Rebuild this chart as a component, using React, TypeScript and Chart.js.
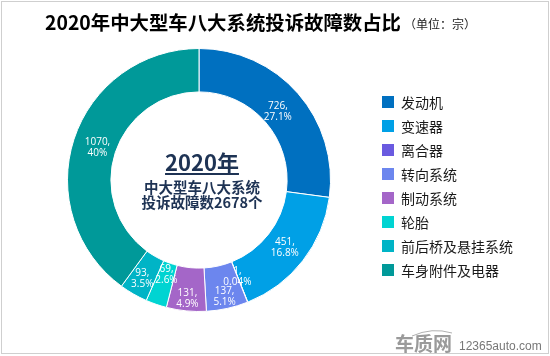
import { useEffect, useRef } from "react";
import { Chart, registerables } from "chart.js";

Chart.register(...registerables);

const categories = [
  "发动机",
  "变速器",
  "离合器",
  "转向系统",
  "制动系统",
  "轮胎",
  "前后桥及悬挂系统",
  "车身附件及电器",
];
const complaintCounts = [726, 451, 1, 137, 131, 69, 93, 1070];
const percentLabels = ["27.1%", "16.8%", "0.04%", "5.1%", "4.9%", "2.6%", "3.5%", "40%"];
const sliceColors = [
  "#0070C0",
  "#00A0E6",
  "#6A5AE0",
  "#6C86EE",
  "#A466C8",
  "#00D4D2",
  "#00B4C6",
  "#009999",
];
const titleText = "2020年中大型车八大系统投诉故障数占比";
const unitText = "（单位：宗）";
const centerYear = "2020年";
const centerLine1 = "中大型车八大系统";
const centerLine2 = "投诉故障数2678个";
const brandText = "车质网";
const siteText = "12365auto.com";

// radial nudges (px) of each slice label from the ring's middle, to avoid overlaps
const labelRadialNudge = [-5, -1, -6, 9, 9, -10, 4, -3];

const CJK = '"Noto Sans CJK SC", "Noto Sans", sans-serif';

const overlayPlugin = {
  id: "overlay",
  afterDatasetsDraw(chart: any) {
    const ctx = chart.ctx;
    const meta = chart.getDatasetMeta(0);
    ctx.save();
    // slice labels
    ctx.fillStyle = "#ffffff";
    ctx.font = '10px "Open Sans", sans-serif';
    ctx.textAlign = "center";
    ctx.textBaseline = "middle";
    meta.data.forEach((arc: any, i: number) => {
      const p = arc.getProps(["x", "y", "startAngle", "endAngle", "innerRadius", "outerRadius"], true);
      const mid = (p.startAngle + p.endAngle) / 2;
      const r = (p.innerRadius + p.outerRadius) / 2 + labelRadialNudge[i];
      const x = p.x + Math.cos(mid) * r;
      const y = p.y + Math.sin(mid) * r;
      ctx.fillText(complaintCounts[i] + ",", x, y - 5);
      ctx.fillText(percentLabels[i], x, y + 6);
    });

    // centre text
    const a0 = meta.data[0];
    const cx = a0.x + 3;
    const cy = a0.y;
    ctx.fillStyle = "#1E3354";
    ctx.font = `bold 22px ${CJK}`;
    ctx.fillText(centerYear, cx, cy - 17);
    const w = ctx.measureText(centerYear).width;
    ctx.fillRect(cx - w / 2, cy - 7, w, 2);
    ctx.font = `bold 14.5px ${CJK}`;
    ctx.fillText(centerLine1, cx, cy + 7);
    ctx.fillText(centerLine2, cx, cy + 22);

    // title
    ctx.textAlign = "left";
    ctx.fillStyle = "#000000";
    ctx.font = `bold 19.4px ${CJK}`;
    ctx.fillText(titleText, 45, 23);
    const tw = ctx.measureText(titleText).width;
    ctx.font = `12px ${CJK}`;
    ctx.fillStyle = "#222222";
    ctx.fillText(unitText, 45 + tw + 3, 24);

    // legend
    const bg = chart.data.datasets[0].backgroundColor;
    chart.data.labels.forEach((lab: string, i: number) => {
      const y = 102 + i * 24;
      ctx.fillStyle = bg[i];
      ctx.fillRect(382, y - 6, 12, 12);
      ctx.fillStyle = "#1a1a1a";
      ctx.font = `14px ${CJK}`;
      ctx.fillText(lab, 401, y + 1);
    });

    // watermark
    ctx.strokeStyle = "#b0b0b0";
    ctx.lineWidth = 1;
    ctx.beginPath();
    ctx.moveTo(412, 336);
    ctx.quadraticCurveTo(432, 327, 452, 333);
    ctx.stroke();
    ctx.fillStyle = "#9a9a9a";
    ctx.font = `bold 19px ${CJK}`;
    ctx.fillText(brandText, 395, 344);
    ctx.fillStyle = "#777777";
    ctx.font = '12px "Liberation Sans", Arial, sans-serif';
    ctx.fillText(siteText, 459, 347);
    ctx.restore();
  },
};

export default function App() {
  const canvasRef = useRef<HTMLCanvasElement | null>(null);

  useEffect(() => {
    if (!canvasRef.current) return;
    const chart = new Chart(canvasRef.current, {
      type: "doughnut",
      data: {
        labels: categories,
        datasets: [
          {
            data: complaintCounts,
            backgroundColor: sliceColors,
            borderColor: "#ffffff",
            borderWidth: 1,
          },
        ],
      },
      options: {
        responsive: false,
        animation: false,
        devicePixelRatio: 1,
        cutout: "67%",
        layout: { padding: { left: 67, top: 48, right: 219, bottom: 44 } },
        plugins: {
          legend: { display: false },
          tooltip: { enabled: false },
          title: { display: false },
        },
      },
      plugins: [overlayPlugin],
    });
    return () => chart.destroy();
  }, []);

  return (
    <div
      style={{
        position: "absolute",
        left: 0,
        top: 0,
        width: 550,
        height: 356,
        background: "#ffffff",
      }}
    >
      <div
        style={{
          position: "absolute",
          left: 1,
          top: 1,
          width: 546,
          height: 351,
          border: "1px solid #cfcfcf",
        }}
      />
      <canvas
        ref={canvasRef}
        width={550}
        height={356}
        style={{ position: "absolute", left: 0, top: 0 }}
      />
    </div>
  );
}
